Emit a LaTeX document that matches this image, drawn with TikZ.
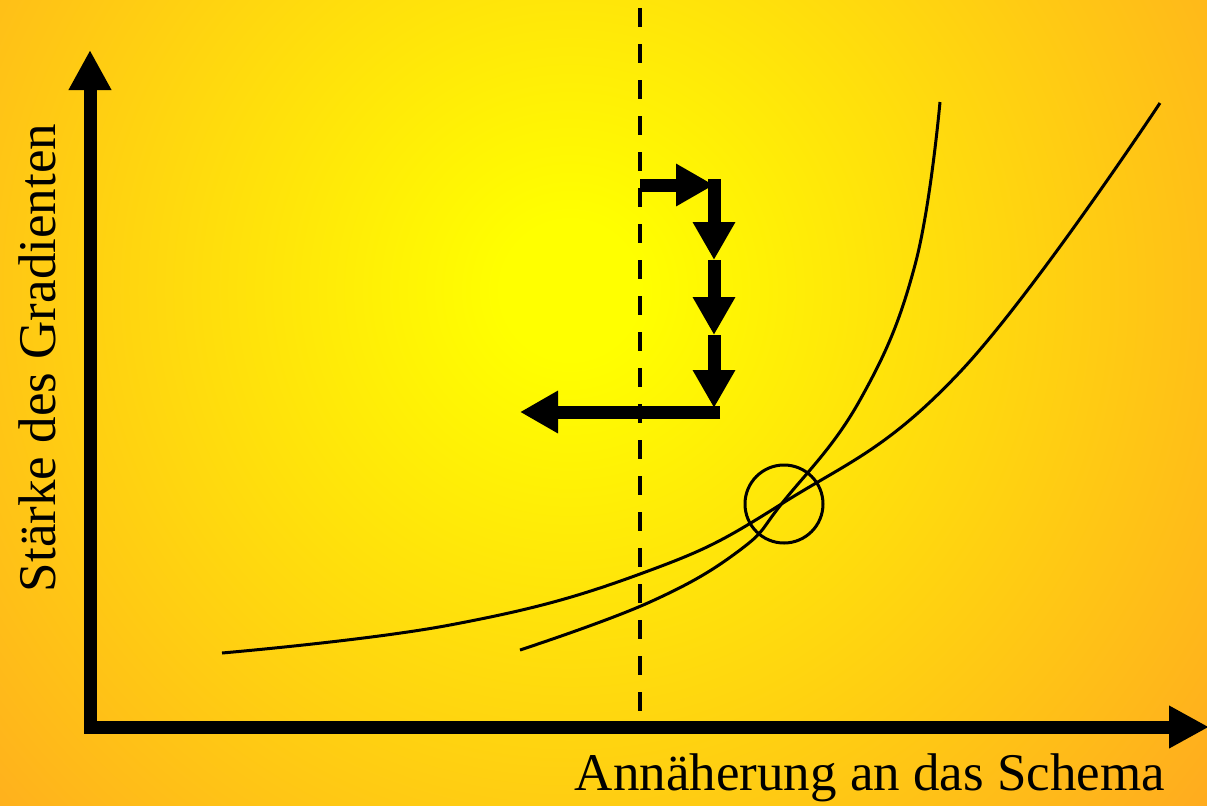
\documentclass[tikz,border=0pt]{standalone}
\usepackage{fontspec}
\setmainfont{Liberation Serif}
\usetikzlibrary{arrows.meta}
\definecolor{bgyellow}{RGB}{255,255,0}
\definecolor{bgorange}{RGB}{255,168,32}
\pgfdeclareradialshading{bgshade}{\pgfpoint{0bp}{0bp}}{color(0bp)=(bgyellow); color(2bp)=(bgyellow); color(25bp)=(bgorange); color(50bp)=(bgorange)}
\tikzset{
  axisline/.style={line width=6.5pt, line join=miter, -{Triangle[length=20pt,width=20pt]}},
  bigarrow/.style={line width=6.5pt, -{Triangle[length=19pt,width=20pt]}},
  curve/.style={line width=1.5pt},
  divider/.style={line width=2pt, dash pattern=on 9.5pt off 8.5pt},
  lbl/.style={font=\fontsize{26.5pt}{30pt}\selectfont, inner sep=0pt}
}
\begin{document}
\begin{tikzpicture}[x=0.5pt,y=-0.5pt]
\useasboundingbox (0,0) rectangle (1207,805);
\begin{scope}
\clip (0,0) rectangle (1207,805);
\shade[shading=bgshade] (570,290) circle (850);
\end{scope}
% coordinates
\coordinate (origin) at (90,727);
\coordinate (ytip) at (90,50);
\coordinate (xtip) at (1209,727);
\coordinate (dtop) at (640,8);
\coordinate (dbot) at (640,724);
\coordinate (s0) at (640,185);
\coordinate (s1) at (714,185);
\coordinate (s1a) at (714,179);
\coordinate (s2) at (714,260);
\coordinate (s3) at (714,335);
\coordinate (s4) at (714,408);
\coordinate (h0) at (720,412);
\coordinate (h1) at (520,412);
% dashed divider
\draw[divider] (dtop) -- (dbot);
% axes
\draw[axisline] (ytip |- 0,733) -- (ytip);
\draw[axisline] (84,727) -- (xtip);
% curves
\draw[curve] plot[smooth, tension=0.7] coordinates {(222,653) (450,625) (640,574) (783,503) (960,372) (1160,103)};
\draw[curve] plot[smooth, tension=0.7] coordinates {(520,650) (650,602) (740,550) (783,502) (860,400) (915,265) (940,102)};
% circle
\node[draw, circle, line width=1.5pt, minimum size=39pt, inner sep=0pt] (ring) at (784,504) {};
% step arrows
\draw[bigarrow] (s0) -- (s1);
\draw[bigarrow] (s1a) -- (s2);
\draw[bigarrow] (s2) -- (s3);
\draw[bigarrow] (s3) -- (s4);
\draw[bigarrow] (h0) -- (h1);
% labels
\node[lbl, anchor=base] (xl) at (870,790) {Annäherung an das Schema};
\node[lbl, anchor=base, rotate=90] (yl) at (55,358) {Stärke des Gradienten};
\end{tikzpicture}
\end{document}
